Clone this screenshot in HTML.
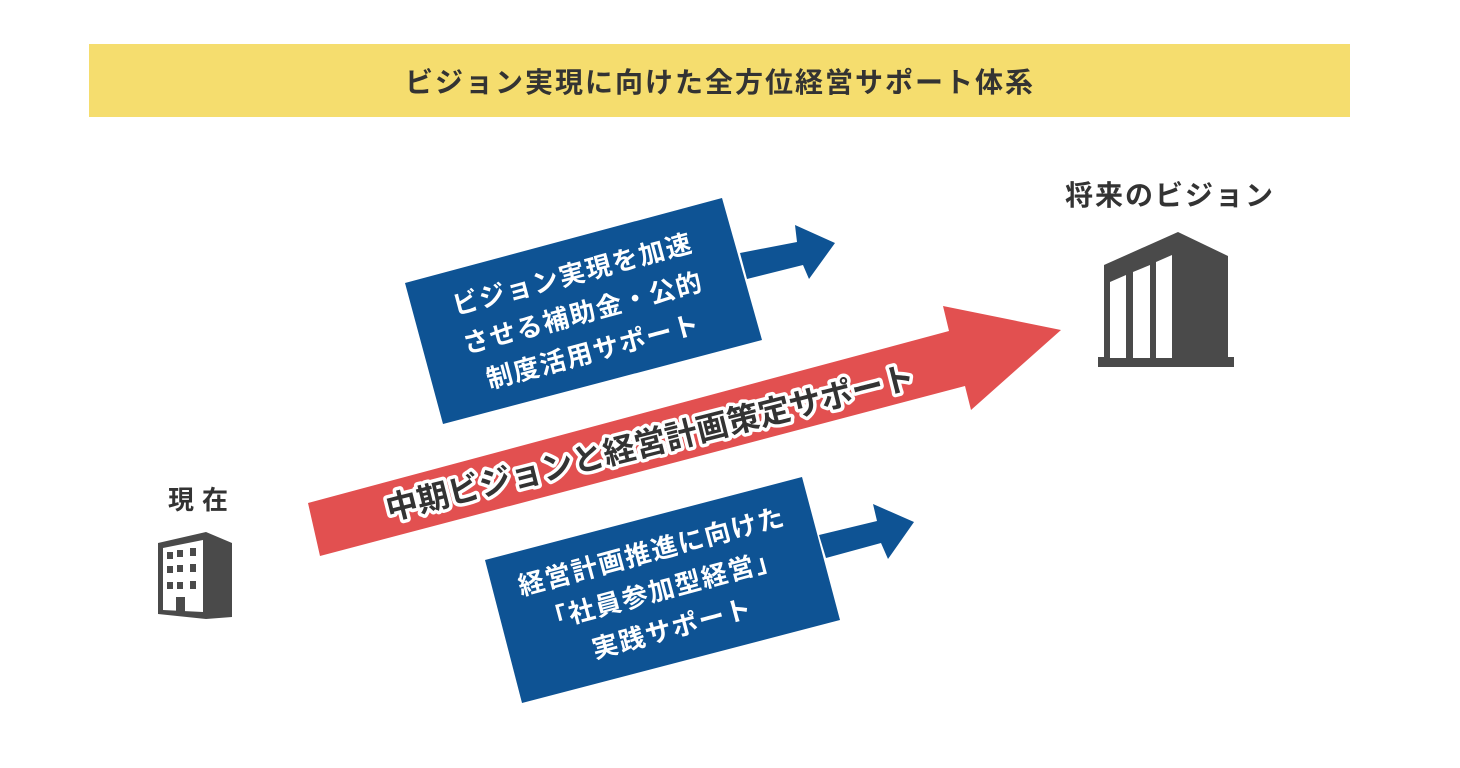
<!DOCTYPE html>
<html><head><meta charset="utf-8"><style>
html,body{margin:0;padding:0;background:#fff;width:1460px;height:768px;overflow:hidden}
svg{display:block}
text{font-family:"Liberation Sans","Noto Sans CJK JP",sans-serif;font-weight:bold}
</style></head><body>
<svg width="1460" height="768" viewBox="0 0 1460 768" xmlns="http://www.w3.org/2000/svg">
<rect x="89" y="44" width="1261" height="73" fill="#f5dd6e"/>
<text x="720" y="92" font-size="28" letter-spacing="2" fill="#333" text-anchor="middle">ビジョン実現に向けた全方位経営サポート体系</text>

<!-- blue box 1 -->
<polygon points="405,283 722,198 762,340 443,424" fill="#0e5394"/>
<polygon points="740,253 797,242 795,225 835,243 809,279 803,265 747,279" fill="#0e5394"/>
<g transform="translate(583,313) rotate(-15)" fill="#fff" font-size="26" letter-spacing="1.5" text-anchor="middle">
<text x="0" y="-31">ビジョン実現を加速</text>
<text x="0" y="9">させる補助金・公的</text>
<text x="0" y="49">制度活用サポート</text>
</g>

<!-- red arrow -->
<polygon points="308,503 949,331 943,306 1061,330 971,410 965,386 320,556" fill="#e25050"/>
<g transform="translate(650,442) rotate(-14.2)">
<text x="0" y="12" font-size="32" text-anchor="middle" fill="#333" stroke="#fff" stroke-width="7" paint-order="stroke" stroke-linejoin="round">中期ビジョンと経営計画策定サポート</text>
</g>

<!-- blue box 2 -->
<polygon points="485,560 802,477 840,620 522,703" fill="#0e5394"/>
<polygon points="819,535 877,521 873,504 914,522 888,559 881,543 826,558" fill="#0e5394"/>
<g transform="translate(662,590) rotate(-15)" fill="#fff" font-size="26" letter-spacing="1.5" text-anchor="middle">
<text x="0" y="-31">経営計画推進に向けた</text>
<text x="0" y="9">「社員参加型経営」</text>
<text x="0" y="49">実践サポート</text>
</g>

<!-- labels -->
<text x="202" y="509" font-size="26" letter-spacing="8" fill="#333" text-anchor="middle">現在</text>
<text x="1170" y="205" font-size="28" letter-spacing="2" fill="#333" text-anchor="middle">将来のビジョン</text>

<!-- small building -->
<polygon points="158,543 206,532 232,543 232,617 206,619 158,614" fill="#4a4a4a"/>
<polygon points="163,548 203,540 203,612 163,610" fill="#fff"/>
<g fill="#4a4a4a">
<rect x="167" y="552" width="6" height="7"/><rect x="177" y="550" width="6" height="7"/><rect x="190" y="548" width="6" height="8"/>
<rect x="167" y="566" width="6" height="7"/><rect x="177" y="565" width="6" height="7"/><rect x="190" y="564" width="6" height="8"/>
<rect x="167" y="582" width="6" height="7"/><rect x="177" y="582" width="6" height="7"/><rect x="190" y="581" width="6" height="8"/>
<rect x="176" y="597" width="9" height="15"/>
</g>

<!-- big building -->
<polygon points="1104,265 1178,232 1228,256 1228,358 1104,358" fill="#4a4a4a"/>
<rect x="1098" y="357" width="136" height="10" fill="#4a4a4a"/>
<g fill="#fff">
<polygon points="1110,282 1126,275 1126,358 1110,358"/>
<polygon points="1133,272 1150,265 1150,358 1133,358"/>
<polygon points="1156,262 1172,255 1172,358 1156,358"/>
</g>
</svg>
</body></html>
